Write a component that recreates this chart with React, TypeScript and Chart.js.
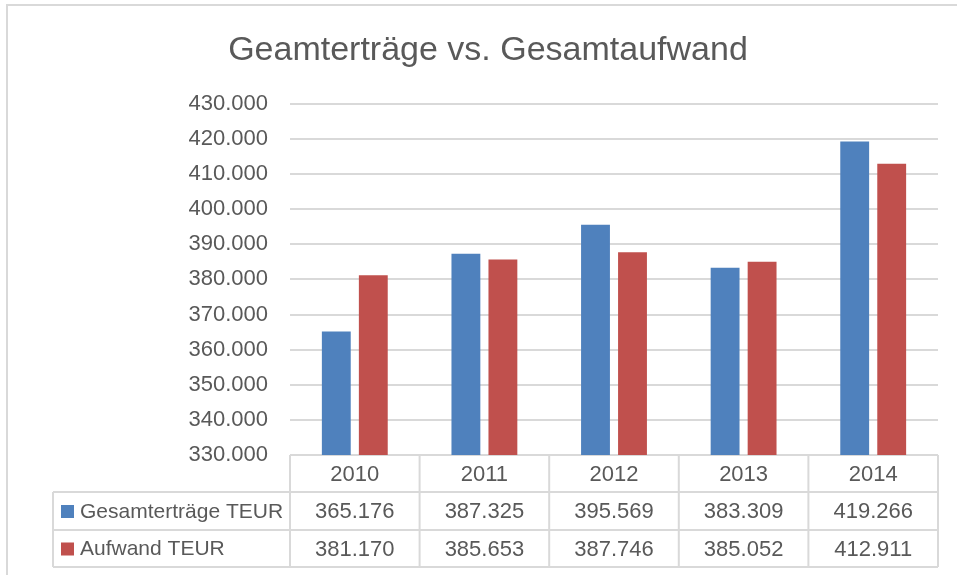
import React, { useEffect, useRef } from "react";
import { Chart, registerables } from "chart.js";

Chart.register(...registerables);

const categories = ["2010", "2011", "2012", "2013", "2014"];
const seriesNames = ["Gesamterträge TEUR", "Aufwand TEUR"];
const gesamtertraege = [365176, 387325, 395569, 383309, 419266];
const aufwand = [381170, 385653, 387746, 385052, 412911];
const seriesColors = ["#4f81bd", "#c0504d"];
const titleText = "Geamterträge vs. Gesamtaufwand";
const yMin = 330000;
const yMax = 430000;
const yStep = 10000;

const FONT = "'Liberation Sans', Arial, sans-serif";
const TEXT = "#595959";
const LINE = "#d9d9d9";
const PAD_LEFT = 38;

function fmt(v: number): string {
  const s = Math.round(v).toString();
  return s.replace(/\B(?=(\d{3})+(?!\d))/g, ".");
}

const framePlugin = {
  id: "frame",
  beforeDraw(chart: any) {
    const ctx = chart.ctx;
    ctx.save();
    ctx.fillStyle = "#ffffff";
    ctx.fillRect(0, 0, chart.width, chart.height);
    ctx.strokeStyle = LINE;
    ctx.lineWidth = 2;
    ctx.beginPath();
    ctx.moveTo(7, chart.height);
    ctx.lineTo(7, 5);
    ctx.lineTo(chart.width, 5);
    ctx.stroke();
    ctx.restore();
  },
};

const tablePlugin = {
  id: "dataTable",
  afterDraw(chart: any) {
    const ctx = chart.ctx;
    const area = chart.chartArea;
    const xs = chart.scales.x;
    const n = chart.data.labels.length;
    const colW = (area.right - area.left) / n;
    const top = area.bottom;
    const rowLines = [top, top + 37, top + 75, top + 112];
    const legendLeft = 53;
    ctx.save();
    ctx.strokeStyle = LINE;
    ctx.lineWidth = 2;
    ctx.beginPath();
    for (let r = 1; r < rowLines.length; r++) {
      ctx.moveTo(legendLeft, rowLines[r]);
      ctx.lineTo(area.right, rowLines[r]);
    }
    ctx.moveTo(legendLeft, rowLines[1]);
    ctx.lineTo(legendLeft, rowLines[3]);
    for (let i = 0; i <= n; i++) {
      const x = i < n ? xs.getPixelForValue(i) - colW / 2 : xs.getPixelForValue(n - 1) + colW / 2;
      ctx.moveTo(x, rowLines[0]);
      ctx.lineTo(x, rowLines[3]);
    }
    ctx.stroke();

    ctx.fillStyle = TEXT;
    ctx.font = `22px ${FONT}`;
    ctx.textAlign = "center";
    ctx.textBaseline = "middle";
    const mids = [0, 1, 2].map((r) => (rowLines[r] + rowLines[r + 1]) / 2 + 1);
    chart.data.labels.forEach((lab: string, i: number) => {
      const cx = xs.getPixelForValue(i);
      ctx.fillText(lab, cx, mids[0]);
      chart.data.datasets.forEach((ds: any, d: number) => {
        ctx.fillText(fmt(ds.data[i]), cx, mids[d + 1]);
      });
    });
    ctx.textAlign = "left";
    ctx.font = `21px ${FONT}`;
    chart.data.datasets.forEach((ds: any, d: number) => {
      const cy = mids[d + 1];
      ctx.fillStyle = ds.backgroundColor;
      ctx.fillRect(61, cy - 7, 13, 13);
      ctx.fillStyle = TEXT;
      ctx.fillText(ds.label, 80, cy);
    });
    ctx.restore();
  },
};

export default function App() {
  const ref = useRef<HTMLCanvasElement | null>(null);
  useEffect(() => {
    if (!ref.current) return;
    const chart = new Chart(ref.current, {
      type: "bar",
      data: {
        labels: categories,
        datasets: [
          { label: seriesNames[0], data: gesamtertraege, backgroundColor: seriesColors[0] },
          { label: seriesNames[1], data: aufwand, backgroundColor: seriesColors[1] },
        ],
      },
      options: {
        animation: false,
        responsive: false,
        devicePixelRatio: 1,
        layout: { padding: { left: PAD_LEFT, right: 19, top: 0, bottom: 120 } },
        datasets: { bar: { categoryPercentage: 0.571, barPercentage: 0.78 } },
        plugins: {
          legend: { display: false },
          tooltip: { enabled: false },
          title: {
            display: true,
            text: titleText,
            color: TEXT,
            font: { family: FONT, size: 34, weight: "normal" },
            padding: { top: 30, bottom: 33 },
          },
        },
        scales: {
          x: { display: false },
          y: {
            min: yMin,
            max: yMax,
            afterFit: (s: any) => {
              s.width = 290 - PAD_LEFT;
            },
            ticks: {
              stepSize: yStep,
              color: TEXT,
              font: { family: FONT, size: 22 },
              padding: 22,
              callback: (v: any) => fmt(Number(v)),
            },
            grid: { color: LINE, lineWidth: 2, drawTicks: false },
            border: { display: false },
          },
        },
      } as any,
      plugins: [framePlugin, tablePlugin],
    });
    return () => chart.destroy();
  }, []);
  return (
    <div style={{ position: "fixed", left: 0, top: 0, width: 957, height: 575, background: "#fff" }}>
      <canvas ref={ref} width={957} height={575} />
    </div>
  );
}
